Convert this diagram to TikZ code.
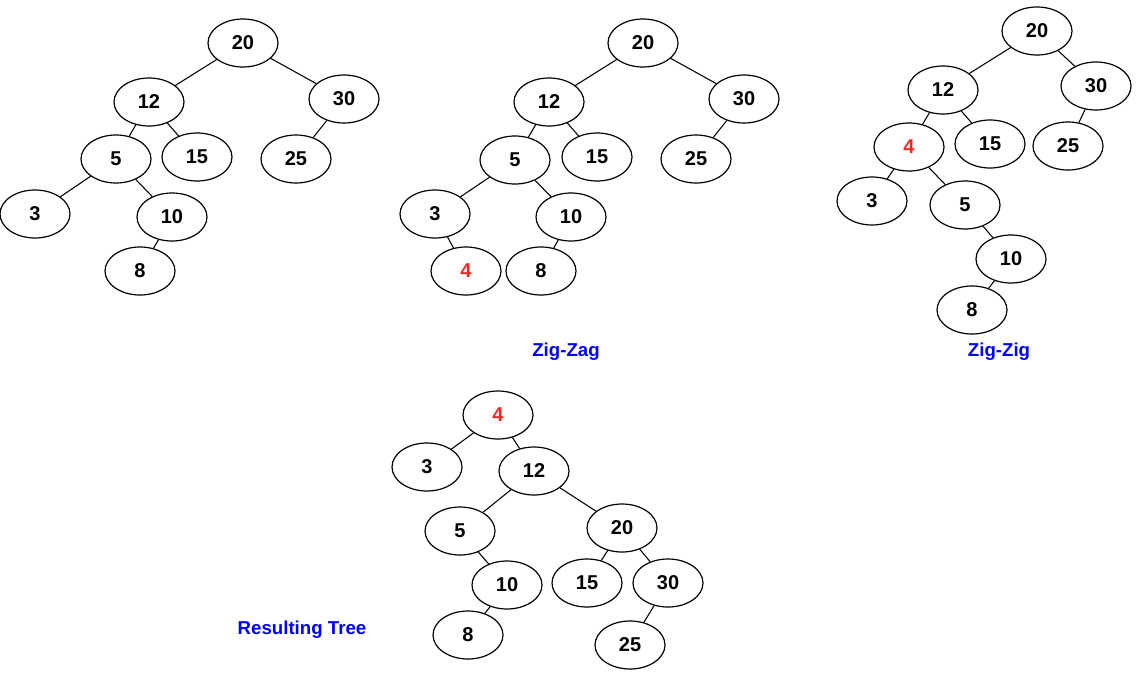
\documentclass[tikz,border=0pt]{standalone}
\usepackage{fontspec}
\setmainfont{Liberation Sans}
\usetikzlibrary{shapes.geometric}
\begin{document}
\begin{tikzpicture}[x=0.75pt,y=-0.75pt,
  n/.style={ellipse,draw,line width=0.9pt,minimum width=52.5pt,minimum height=36pt,inner sep=0pt,font=\fontsize{15}{17}\selectfont\bfseries},
  r/.style={n,text={rgb,255:red,240;green,40;blue,40}},
  lab/.style={text=blue,font=\fontsize{14}{16}\selectfont\bfseries},
  e/.style={line width=0.8pt}]
\useasboundingbox (0,0) rectangle (1139,675);
% tree 1
\node[n] (a20) at (243,43) {20};
\node[n] (a12) at (149,102) {12};
\node[n] (a30) at (344,99) {30};
\node[n] (a5) at (116,159) {5};
\node[n] (a15) at (197,157) {15};
\node[n] (a25) at (296,159) {25};
\node[n] (a3) at (35,214) {3};
\node[n] (a10) at (172,217) {10};
\node[n] (a8) at (140,271) {8};
\foreach \u/\v in {20/12,20/30,12/5,12/15,30/25,5/3,5/10,10/8}\draw[e] (a\u)--(a\v);
% tree 2
\node[n] (b20) at (643,43) {20};
\node[n] (b12) at (549,102) {12};
\node[n] (b30) at (744,99) {30};
\node[n] (b5) at (515,160) {5};
\node[n] (b15) at (597,157) {15};
\node[n] (b25) at (696,159) {25};
\node[n] (b3) at (435,214) {3};
\node[n] (b10) at (571,217) {10};
\node[r] (b4) at (466,271) {4};
\node[n] (b8) at (541,271) {8};
\foreach \u/\v in {20/12,20/30,12/5,12/15,30/25,5/3,5/10,3/4,10/8}\draw[e] (b\u)--(b\v);
% tree 3
\node[n] (c20) at (1037,31) {20};
\node[n] (c12) at (943,90) {12};
\node[n] (c30) at (1096,86) {30};
\node[r] (c4) at (909,147) {4};
\node[n] (c15) at (990,144) {15};
\node[n] (c25) at (1068,146) {25};
\node[n] (c3) at (872,201) {3};
\node[n] (c5) at (965,205) {5};
\node[n] (c10) at (1011,259) {10};
\node[n] (c8) at (972,310) {8};
\foreach \u/\v in {20/12,20/30,12/4,12/15,30/25,4/3,4/5,5/10,10/8}\draw[e] (c\u)--(c\v);
% labels
\node[lab] (l1) at (566,352) {Zig-Zag};
\node[lab] (l2) at (999,352) {Zig-Zig};
\node[lab] (l3) at (302,630) {Resulting Tree};
% tree 4
\node[r] (d4) at (498,415) {4};
\node[n] (d3) at (427,467) {3};
\node[n] (d12) at (534,471) {12};
\node[n] (d5) at (460,531) {5};
\node[n] (d20) at (622,528) {20};
\node[n] (d10) at (507,585) {10};
\node[n] (d15) at (587,583) {15};
\node[n] (d30) at (668,583) {30};
\node[n] (d8) at (468,635) {8};
\node[n] (d25) at (630,645) {25};
\foreach \u/\v in {4/3,4/12,12/5,12/20,5/10,20/15,20/30,10/8,30/25}\draw[e] (d\u)--(d\v);
\end{tikzpicture}
\end{document}
